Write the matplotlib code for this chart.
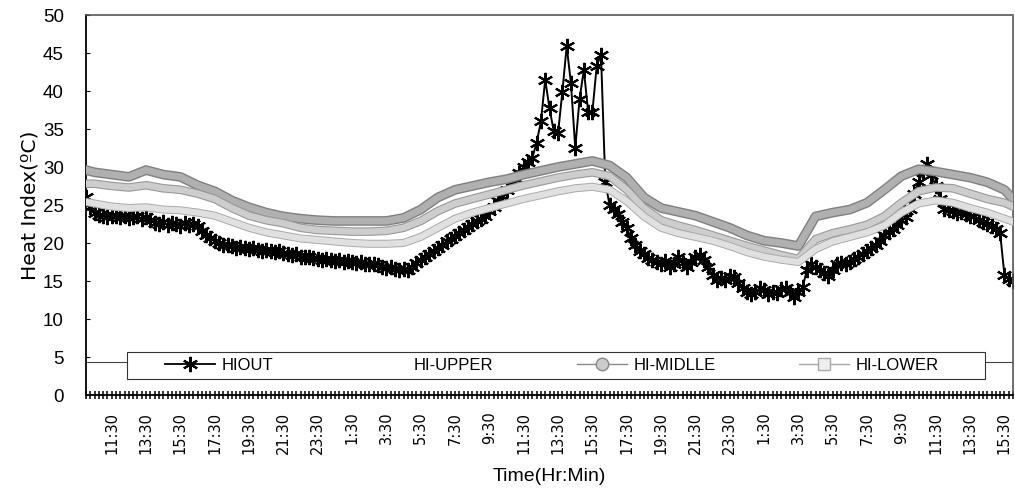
import numpy as np
import matplotlib
matplotlib.use("Agg")
import matplotlib.pyplot as plt
import matplotlib.patheffects as pe
from matplotlib.lines import Line2D
from matplotlib.patches import Rectangle

# ---------------- data ----------------
# HIOUT: 15-minute readings, hours counted from 00:00 of day 1 (10:00 day1 -> 16:00 day3)
hiout_start, hiout_step = 10.0, 0.25
hiout = [
    26.0, 24.8, 24.0, 23.7,  23.6, 23.4, 23.6, 23.5,  23.4, 23.6, 23.3, 23.4,
    23.5, 23.2, 23.4, 23.0,  22.6, 22.5, 22.7, 22.4,  22.6, 22.5, 22.3, 22.6,
    22.4, 22.5, 22.2, 21.6,  21.0, 20.6, 20.3, 20.0,  19.8, 19.7, 19.6, 19.4,
    19.5, 19.3, 19.2, 19.3,  19.1, 19.0, 19.1, 18.9,  18.8, 18.9, 18.7, 18.5,
    18.4, 18.5, 18.2, 18.1,  18.2, 18.0, 17.9, 17.8,  17.9, 17.7, 17.6, 17.7,
    17.5, 17.6, 17.5, 17.4,  17.5, 17.3, 17.2, 17.3,  17.1, 16.8, 16.7, 16.8,
    16.6, 16.5, 16.6, 16.4,  16.8, 17.4, 17.8, 18.2,  18.6, 19.0, 19.4, 19.8,
    20.2, 20.5, 20.9, 21.3,  21.7, 22.1, 22.5, 22.9,  23.2, 23.6, 24.2, 24.8,
    25.5, 26.2, 27.0, 27.8,  28.5, 29.2, 30.0, 30.7,  31.2, 33.2, 36.0, 41.5,
    37.7, 34.7, 34.5, 39.9,  45.9, 41.0, 32.5, 38.9,  42.8, 37.3, 37.3, 43.3,
    44.8, 28.0, 25.0, 24.5,  23.8, 22.8, 22.0, 20.6,  19.8, 19.0, 18.6, 18.0,
    17.7, 17.5, 17.3, 17.6,  16.8, 17.2, 18.1, 17.4,  16.8, 17.5, 18.1, 18.4,
    17.8, 16.8, 15.8, 15.1,  15.4, 15.1, 15.6, 15.5,  14.8, 14.1, 13.6, 13.3,
    13.5, 14.1, 13.8, 13.3,  13.6, 13.4, 13.9, 14.1,  13.6, 12.9, 13.5, 14.2,
    16.5, 17.3, 16.8, 16.4,  16.0, 15.6, 16.4, 17.3,  17.4, 17.2, 17.5, 17.9,
    18.1, 18.5, 19.0, 19.3,  19.8, 20.2, 21.0, 21.5,  21.8, 22.4, 23.0, 23.4,
    24.5, 26.5, 28.0, 29.4,  30.4, 29.0, 27.5, 25.8,  24.5, 24.3, 24.2, 24.0,
    24.1, 23.8, 23.6, 23.5,  23.0, 22.8, 22.5, 22.2,  21.9, 21.3, 15.8, 15.2,
    15.0,
]

# Indoor heat index bands: hourly readings (hours from 00:00 of day 1)
band_t = [10.0] + [10.5 + k for k in range(54)] + [64.0]
hi_upper = [
    29.6, 29.3, 29.0, 28.7, 29.6, 29.0, 28.7, 27.6, 26.8, 25.6, 24.7,
    24.0, 23.5, 23.2, 23.0, 22.9, 22.9, 22.9, 22.9, 23.3, 24.4, 26.0,
    27.0, 27.5, 28.0, 28.4, 29.0, 29.5, 30.0, 30.4, 30.8, 30.2, 28.6,
    26.0, 24.6, 24.1, 23.6, 22.8, 22.0, 21.0, 20.3, 20.0, 19.6, 23.5,
    24.0, 24.4, 25.3, 27.0, 28.8, 29.7, 29.4, 29.0, 28.6, 28.0, 27.0, 25.8,
]
hi_middle = [
    27.8, 27.8, 27.5, 27.3, 27.6, 27.2, 27.0, 26.5, 25.8, 24.6, 23.6,
    23.0, 22.6, 22.0, 21.7, 21.6, 21.5, 21.5, 21.6, 22.0, 22.9, 24.2,
    25.2, 25.8, 26.4, 27.0, 27.6, 28.1, 28.6, 29.0, 29.3, 28.8, 27.0,
    24.6, 23.0, 22.3, 21.7, 21.0, 20.3, 19.6, 19.0, 18.4, 17.9, 20.5,
    21.3, 21.8, 22.4, 23.5, 25.3, 26.8, 27.3, 27.2, 26.5, 25.8, 25.3, 24.8,
]
hi_lower = [
    25.4, 25.2, 24.8, 24.6, 24.7, 24.4, 24.3, 24.0, 23.6, 22.8, 22.0,
    21.4, 21.0, 20.6, 20.4, 20.2, 20.0, 19.9, 19.9, 20.0, 20.8, 22.0,
    23.2, 24.0, 24.6, 25.2, 25.8, 26.3, 26.8, 27.2, 27.4, 27.0, 25.5,
    23.5, 22.0, 21.3, 20.8, 20.3, 19.6, 18.8, 18.2, 17.8, 17.5, 19.2,
    20.2, 20.8, 21.4, 22.3, 24.0, 25.2, 25.6, 25.3, 24.6, 24.0, 23.2, 22.8,
]

tick_hours = [11.5 + 2 * k for k in range(27)]
tick_labels = [f"{int(h % 24)}:30" for h in tick_hours]
legend_labels = ["HIOUT", "HI-UPPER", "HI-MIDLLE", "HI-LOWER"]

# ---------------- figure ----------------
fig = plt.figure(figsize=(10.15, 4.95), dpi=100)
ax = fig.add_axes([86 / 1015, 1 - 395 / 495, 927 / 1015, 380 / 495])

hiout_t = hiout_start + hiout_step * np.arange(len(hiout))
ax.plot(hiout_t, hiout, color="black", lw=1.4, marker=(6, 2, 0), ms=11,
        mew=1.5, zorder=2)

ax.plot(band_t, hi_upper, color="#b0b0b0", lw=5.0, zorder=3,
        solid_joinstyle="round",
        path_effects=[pe.Stroke(linewidth=7.0, foreground="#808080"), pe.Normal()])
ax.plot(band_t, hi_middle, color="#cdcdcd", lw=4.6, zorder=4,
        solid_joinstyle="round",
        path_effects=[pe.Stroke(linewidth=6.2, foreground="#999999"), pe.Normal()])
ax.plot(band_t, hi_lower, color="#e0e0e0", lw=4.4, zorder=5,
        solid_joinstyle="round",
        path_effects=[pe.Stroke(linewidth=5.8, foreground="#aaaaaa"), pe.Normal()])

# line crossing behind legend
ax.axhline(4.34, color="#444444", lw=0.8, zorder=1)

ax.set_xlim(10, 64)
ax.set_ylim(0, 50)
ax.set_yticks(range(0, 51, 5))
ax.set_xticks(tick_hours)
ax.set_xticklabels(tick_labels, rotation=90, fontsize=10.5,
                   family=["DejaVu Sans"])
ax.set_xticks(np.arange(10, 64.01, 0.25), minor=True)
ax.tick_params(axis="x", which="both", direction="inout", length=6, width=1.1,
               pad=9, color="black")
ax.tick_params(axis="y", direction="in", length=3, pad=16, labelsize=13.5)
for lab in ax.get_yticklabels():
    lab.set_family(["Liberation Sans", "DejaVu Sans"])

ax.spines["left"].set_color("black")
ax.spines["left"].set_linewidth(1.3)
ax.spines["bottom"].set_linewidth(1.3)
for s in ("top", "right"):
    ax.spines[s].set_color("#555555")
    ax.spines[s].set_linewidth(1.2)
    ax.spines[s].set_linestyle((0, (1, 1)))

ax.set_ylabel("Heat Index(ºC)", fontsize=14.5, family=["DejaVu Sans"], labelpad=2)
ax.set_xlabel("Time(Hr:Min)", fontsize=14,
              family=["Liberation Sans Narrow", "Liberation Sans", "DejaVu Sans"],
              labelpad=10)

# legend frame (box) and legend contents
box = Rectangle((41 / 927, 16 / 380), 858 / 927, 27 / 380, transform=ax.transAxes,
                facecolor="white", edgecolor="#333333", lw=0.8, zorder=9)
ax.add_patch(box)
handles = [
    Line2D([], [], color="black", lw=1.3, marker=(6, 2, 0), ms=11, mew=1.5),
    Line2D([], [], color="white", lw=1.0),
    Line2D([], [], color="#8a8a8a", lw=1.0, marker="o", ms=9,
           mfc="#cccccc", mec="#888888"),
    Line2D([], [], color="#a8a8a8", lw=1.0, marker="s", ms=8,
           mfc="#eeeeee", mec="#aaaaaa"),
]
leg = ax.legend(handles, legend_labels, ncol=4, loc="center",
                bbox_to_anchor=(466 / 927, 29.5 / 380), frameon=False,
                handlelength=3.0, handletextpad=0.4, columnspacing=5.0,
                prop={"family": ["Liberation Sans Narrow", "Liberation Sans", "DejaVu Sans"],
                      "size": 12})
leg.set_zorder(10)

fig.savefig("out.png", dpi=100)
